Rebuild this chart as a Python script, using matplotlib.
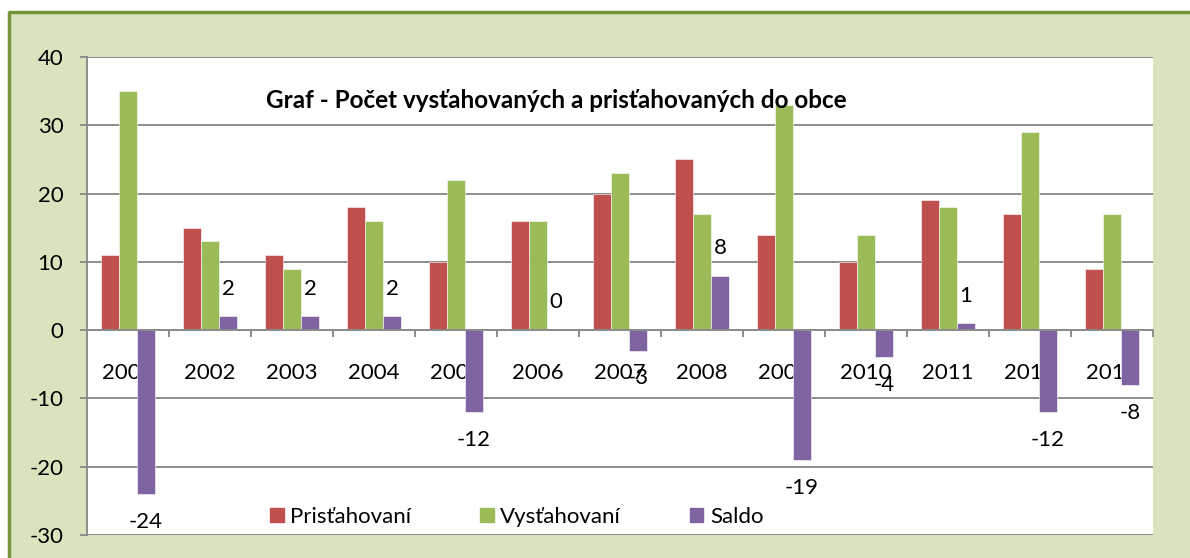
import numpy as np
import matplotlib.pyplot as plt
from matplotlib.patches import Rectangle, Patch
from matplotlib.lines import Line2D

plt.rcParams['font.family'] = ['Lato', 'DejaVu Sans']
plt.rcParams['axes.unicode_minus'] = False

years = ['2001', '2002', '2003', '2004', '2005', '2006', '2007',
         '2008', '2009', '2010', '2011', '2012', '2013']
prist = [11, 15, 11, 18, 10, 16, 20, 25, 14, 10, 19, 17, 9]
vyst = [35, 13, 9, 16, 22, 16, 23, 17, 33, 14, 18, 29, 17]
saldo = [-24, 2, 2, 2, -12, 0, -3, 8, -19, -4, 1, -12, -8]
names = ['Prisťahovaní', 'Vysťahovaní', 'Saldo']
colors = ['#C0504D', '#9BBB59', '#8064A2']
title = 'Graf - Počet vysťahovaných a prisťahovaných do obce'

fig = plt.figure(figsize=(11.9, 5.58), dpi=100)
fig.patch.set_facecolor('white')
# green chart background, border only on left and top
fx, fy = 9 / 1190, (558 - 12) / 558
fig.patches.append(Rectangle((fx, 0), 1 - fx, fy, transform=fig.transFigure,
                             facecolor='#D7E4BD', edgecolor='none', zorder=-2))
fig.add_artist(Line2D([fx, fx, 1], [0, fy, fy], transform=fig.transFigure,
                      color='#77933C', lw=2.5, zorder=-1))

ax = fig.add_axes([87 / 1190, 23 / 558, 1066 / 1190, 478 / 558])
ax.set_zorder(1)
ax.set_facecolor('white')
ax.set_axisbelow(True)

x = np.arange(len(years))
w = 0.22
for k, (vals, c) in enumerate(zip([prist, vyst, saldo], colors)):
    ax.bar(x + (k - 1) * w, vals, w, color=c, edgecolor='white', lw=0.4, zorder=2)

for xi, v in zip(x + w, saldo):
    off = 20 if v >= 0 else -20
    ax.annotate(str(v), (xi, v), xytext=(0, off), textcoords='offset points',
                ha='center', va='center', fontsize=16, zorder=3)

ax.set_xlim(-0.5, len(years) - 0.5)
ax.set_ylim(-30, 40)
ax.set_yticks(range(-30, 41, 10))
ax.yaxis.grid(True, color='#8C8C8C', lw=1.4)

for s in ['top', 'right']:
    ax.spines[s].set_visible(False)
ax.spines['left'].set_color('#8C8C8C')
ax.spines['left'].set_linewidth(1.4)
ax.spines['bottom'].set_position(('data', 0))
ax.spines['bottom'].set_color('#8C8C8C')
ax.spines['bottom'].set_linewidth(1.4)

ax.set_xticks(x)
ax.set_xticklabels(years)
ax.set_xticks(np.arange(len(years) + 1) - 0.5, minor=True)
ax.tick_params(axis='x', which='major', length=0, pad=24, labelsize=16)
ax.tick_params(axis='x', which='minor', length=5, width=1.4, color='#8C8C8C')
ax.tick_params(axis='y', length=5, width=1.4, color='#8C8C8C', pad=12,
               labelsize=16)

ax.text(0.44, 0.908, title, transform=ax.transAxes, ha='center', va='center',
        fontsize=17.5, fontweight='bold')

handles = [Patch(color=c) for c in colors]
ax.legend(handles, names, loc='center left', bbox_to_anchor=(0.172, 0.038),
          ncol=3, frameon=False, fontsize=16, handlelength=0.6,
          handleheight=0.6, handletextpad=0.3, columnspacing=3.1,
          borderpad=0, borderaxespad=0)

fig.savefig('out.png', dpi=100)
